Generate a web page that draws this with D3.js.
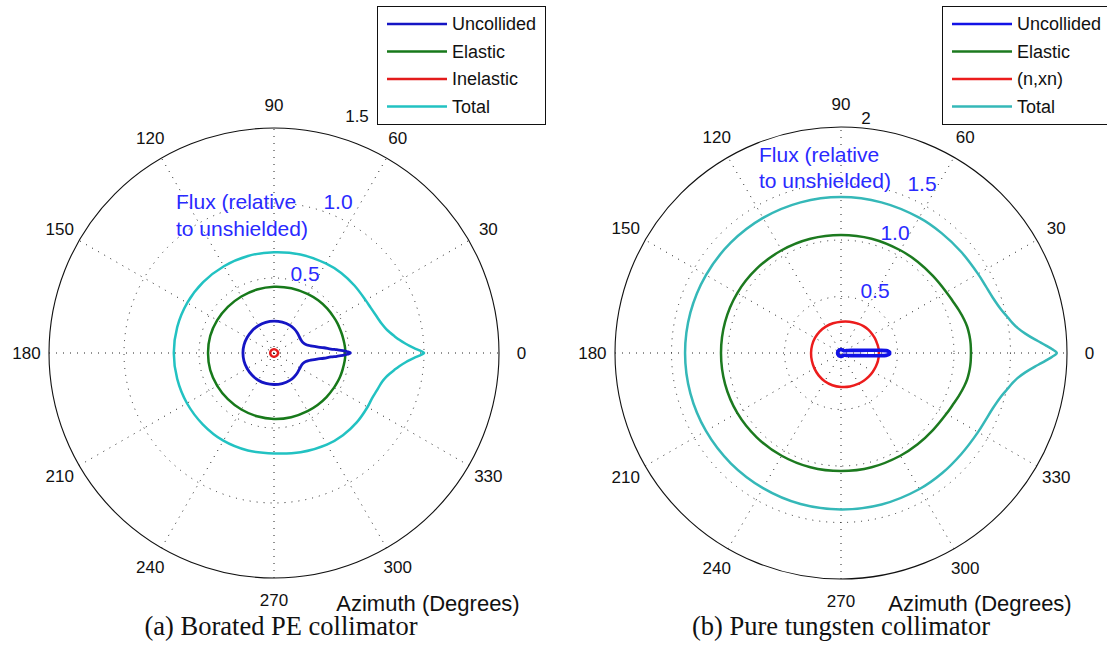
<!DOCTYPE html>
<html>
<head>
<meta charset="utf-8">
<script src="https://cdn.jsdelivr.net/npm/d3@7"></script>
<style>
  body { margin: 0; background: #fff; }
  svg { display: block; }
  text { font-family: "Liberation Sans", Arial, sans-serif; }
  text.caption { font-family: "Liberation Serif", "Times New Roman", serif; }
</style>
</head>
<body>
<svg id="fig" width="1107" height="653"></svg>
<script>
// Azimuth samples (degrees, counter-clockwise from 0), shared by every curve
const angles = [0, 1, 2, 3, 4, 6, 8, 10, 12, 15, 20, 25, 30, 40, 50, 60, 75, 90, 105, 120,
  135, 150, 165, 180, 195, 210, 225, 240, 255, 270, 285, 300, 310, 320, 330, 335, 340, 345,
  348, 350, 352, 354, 356, 357, 358, 359];

// (a) Borated PE collimator — flux relative to unshielded
const peUncollided = [0.51, 0.49, 0.46, 0.42, 0.38, 0.335, 0.29, 0.26, 0.24, 0.22, 0.205, 0.2, 0.2,
  0.205, 0.21, 0.213, 0.213, 0.213, 0.212, 0.21, 0.208, 0.207, 0.207, 0.207, 0.207, 0.207, 0.208,
  0.21, 0.21, 0.21, 0.211, 0.211, 0.208, 0.204, 0.2, 0.2, 0.205, 0.22, 0.24, 0.26, 0.29, 0.335,
  0.38, 0.42, 0.46, 0.49];
const peElastic = [0.475, 0.475, 0.475, 0.475, 0.475, 0.474, 0.473, 0.472, 0.471, 0.47, 0.468,
  0.467, 0.465, 0.462, 0.458, 0.453, 0.447, 0.442, 0.438, 0.435, 0.435, 0.437, 0.44, 0.44, 0.44,
  0.437, 0.435, 0.435, 0.437, 0.44, 0.443, 0.447, 0.452, 0.457, 0.462, 0.465, 0.468, 0.47, 0.471,
  0.472, 0.473, 0.474, 0.475, 0.475, 0.475, 0.475];
const peInelastic = [0.028, 0.028, 0.028, 0.028, 0.028, 0.028, 0.028, 0.027, 0.027, 0.027, 0.026,
  0.026, 0.026, 0.025, 0.025, 0.025, 0.025, 0.025, 0.025, 0.025, 0.025, 0.025, 0.025, 0.025, 0.025,
  0.025, 0.025, 0.025, 0.025, 0.025, 0.025, 0.025, 0.025, 0.025, 0.026, 0.026, 0.026, 0.027, 0.027,
  0.027, 0.028, 0.028, 0.028, 0.028, 0.028, 0.028];
const peTotal = [1.0, 0.97, 0.935, 0.905, 0.88, 0.84, 0.81, 0.785, 0.765, 0.745, 0.725, 0.712,
  0.705, 0.7, 0.697, 0.69, 0.68, 0.672, 0.67, 0.668, 0.668, 0.668, 0.668, 0.668, 0.668, 0.67,
  0.672, 0.675, 0.673, 0.67, 0.685, 0.705, 0.715, 0.72, 0.72, 0.72, 0.73, 0.745, 0.765, 0.785,
  0.81, 0.84, 0.88, 0.905, 0.935, 0.97];

// (b) Pure tungsten collimator — flux relative to unshielded
const wUncollided = [0.43, 0.43, 0.42, 0.4, 0.34, 0.23, 0.17, 0.135, 0.11, 0.09, 0.065, 0.05, 0.04,
  0.032, 0.03, 0.03, 0.03, 0.03, 0.03, 0.03, 0.03, 0.03, 0.03, 0.03, 0.03, 0.03, 0.03, 0.03, 0.03,
  0.03, 0.03, 0.03, 0.03, 0.032, 0.04, 0.05, 0.065, 0.09, 0.11, 0.135, 0.17, 0.23, 0.34, 0.4,
  0.42, 0.43];
const wElastic = [1.15, 1.15, 1.15, 1.15, 1.15, 1.149, 1.147, 1.144, 1.14, 1.13, 1.11, 1.09, 1.077,
  1.062, 1.055, 1.05, 1.047, 1.045, 1.047, 1.05, 1.055, 1.06, 1.062, 1.062, 1.062, 1.06, 1.055,
  1.05, 1.047, 1.045, 1.047, 1.05, 1.055, 1.062, 1.077, 1.09, 1.11, 1.13, 1.14, 1.144, 1.147,
  1.149, 1.15, 1.15, 1.15, 1.15];
const wNxn = [0.335, 0.335, 0.335, 0.335, 0.335, 0.335, 0.334, 0.333, 0.332, 0.33, 0.328, 0.326,
  0.323, 0.318, 0.31, 0.3, 0.287, 0.277, 0.272, 0.27, 0.268, 0.266, 0.265, 0.265, 0.267, 0.272,
  0.28, 0.288, 0.295, 0.3, 0.307, 0.313, 0.318, 0.323, 0.327, 0.329, 0.331, 0.333, 0.334, 0.334,
  0.335, 0.335, 0.335, 0.335, 0.335, 0.335];
const wTotal = [1.91, 1.87, 1.82, 1.77, 1.72, 1.64, 1.58, 1.54, 1.51, 1.47, 1.43, 1.41, 1.4, 1.39,
  1.385, 1.383, 1.38, 1.38, 1.38, 1.38, 1.38, 1.38, 1.38, 1.38, 1.38, 1.38, 1.38, 1.38, 1.383,
  1.385, 1.388, 1.39, 1.39, 1.39, 1.4, 1.41, 1.43, 1.47, 1.51, 1.54, 1.58, 1.64, 1.72, 1.77,
  1.82, 1.87];

// Angular grid labels and radial scale labels
const azimuthTicks = [0, 30, 60, 90, 120, 150, 180, 210, 240, 270, 300, 330];
const peRadialLabels = ["0.5", "1.0"];
const wRadialLabels = ["0.5", "1.0", "1.5"];

const svg = d3.select("#fig");
const rad = d => d * Math.PI / 180;

const panels = [
  {
    cx: 274, cy: 353, R: 225, rmax: 1.5, topLabel: "1.5", topLabelPos: [357, 116],
    series: [
      { name: "Uncollided", values: peUncollided, color: "#1515c4", width: 2.8 },
      { name: "Elastic", values: peElastic, color: "#17791a", width: 2.5 },
      { name: "Inelastic", values: peInelastic, color: "#e31b1b", width: 2.5 },
      { name: "Total", values: peTotal, color: "#22c2c2", width: 2.5 }
    ],
    drawOrder: [3, 1, 0, 2],
    legend: { x: 377, y: 6, w: 168, h: 118 },
    noteX: 176, noteY: [201, 228],
    radialLabels: peRadialLabels, radialPos: [[305, 273], [338, 201]],
    azimuthX: 428
  },
  {
    cx: 841, cy: 353, R: 226, rmax: 2, topLabel: "2", topLabelPos: [866, 118],
    series: [
      { name: "Uncollided", values: wUncollided, color: "#1212e6", width: 3.6 },
      { name: "Elastic", values: wElastic, color: "#1c7a1f", width: 2.5 },
      { name: "(n,xn)", values: wNxn, color: "#ec1c1c", width: 2.5 },
      { name: "Total", values: wTotal, color: "#35b8b8", width: 2.5 }
    ],
    drawOrder: [3, 1, 2, 0],
    legend: { x: 942, y: 6, w: 175, h: 118 },
    noteX: 759, noteY: [154, 180],
    radialLabels: wRadialLabels, radialPos: [[875, 290], [895, 232], [922, 183]],
    azimuthX: 980
  }
];

panels.forEach(p => {
  const g = svg.append("g");
  const r = d3.scaleLinear().domain([0, p.rmax]).range([0, p.R]);

  // dotted rings at the inner radial ticks
  const rings = r.ticks(p.rmax / 0.5).filter(t => t > 0 && t < p.rmax);
  g.selectAll("circle.ring").data(rings).join("circle")
    .attr("cx", p.cx).attr("cy", p.cy).attr("r", d => r(d))
    .attr("fill", "none").attr("stroke", "#222").attr("stroke-width", 1)
    .attr("stroke-dasharray", "1,6");

  // dotted spokes every 30 degrees
  g.selectAll("line.spoke").data(azimuthTicks.slice(0, 6)).join("line")
    .attr("x1", d => p.cx - p.R * Math.cos(rad(d)))
    .attr("y1", d => p.cy + p.R * Math.sin(rad(d)))
    .attr("x2", d => p.cx + p.R * Math.cos(rad(d)))
    .attr("y2", d => p.cy - p.R * Math.sin(rad(d)))
    .attr("stroke", "#222").attr("stroke-width", 1).attr("stroke-dasharray", "1,6");

  // solid outer circle
  g.append("circle").attr("cx", p.cx).attr("cy", p.cy).attr("r", r(p.rmax))
    .attr("fill", "none").attr("stroke", "#111").attr("stroke-width", 1.1);

  // azimuth labels
  g.selectAll("text.az").data(azimuthTicks).join("text")
    .attr("x", d => p.cx + 1.1 * p.R * Math.cos(rad(d)))
    .attr("y", d => p.cy - 1.1 * p.R * Math.sin(rad(d)))
    .attr("text-anchor", "middle").attr("dominant-baseline", "central")
    .attr("font-size", 17).attr("fill", "#111")
    .text(d => d);

  g.append("text").attr("x", p.topLabelPos[0]).attr("y", p.topLabelPos[1])
    .attr("text-anchor", "middle").attr("dominant-baseline", "central")
    .attr("font-size", 17).attr("fill", "#111").text(p.topLabel);

  // flux curves
  const line = d3.lineRadial()
    .angle(d => Math.PI / 2 - rad(d[0]))
    .radius(d => r(d[1]))
    .curve(d3.curveCatmullRomClosed.alpha(0.5));
  const plot = g.append("g").attr("transform", `translate(${p.cx},${p.cy})`);
  p.drawOrder.forEach(i => {
    const s = p.series[i];
    plot.append("path")
      .datum(angles.map((a, k) => [a, s.values[k]]))
      .attr("d", line)
      .attr("fill", "none").attr("stroke", s.color)
      .attr("stroke-width", s.width).attr("stroke-linejoin", "round");
  });

  // blue annotations
  const blue = "#2a2aff";
  ["Flux (relative", "to unshielded)"].forEach((t, k) => {
    g.append("text").attr("x", p.noteX).attr("y", p.noteY[k])
      .attr("dominant-baseline", "central").attr("font-size", 21)
      .attr("fill", blue).text(t);
  });
  p.radialLabels.forEach((t, k) => {
    g.append("text").attr("x", p.radialPos[k][0]).attr("y", p.radialPos[k][1])
      .attr("text-anchor", "middle").attr("dominant-baseline", "central")
      .attr("font-size", 21).attr("fill", blue).text(t);
  });

  // axis title
  g.append("text").attr("x", p.azimuthX).attr("y", 603)
    .attr("text-anchor", "middle").attr("dominant-baseline", "central")
    .attr("font-size", 22).attr("fill", "#111").text("Azimuth (Degrees)");

  // legend
  const L = p.legend;
  const lg = svg.append("g");
  lg.append("rect").attr("x", L.x + 0.5).attr("y", L.y + 0.5).attr("width", L.w).attr("height", L.h)
    .attr("fill", "#fff").attr("stroke", "#111").attr("stroke-width", 1);
  p.series.forEach((s, k) => {
    const y = L.y + 18 + k * 27.5;
    lg.append("line").attr("x1", L.x + 10).attr("x2", L.x + 70).attr("y1", y).attr("y2", y)
      .attr("stroke", s.color).attr("stroke-width", 2.5);
    lg.append("text").attr("x", L.x + 75).attr("y", y).attr("dominant-baseline", "central")
      .attr("font-size", 18).attr("fill", "#111").text(s.name);
  });
});

// sub-figure captions
const captions = [
  { text: "(a) Borated PE collimator", x: 281 },
  { text: "(b) Pure tungsten collimator", x: 841 }
];
svg.selectAll("text.caption").data(captions).join("text")
  .attr("class", "caption")
  .attr("x", d => d.x).attr("y", 626)
  .attr("text-anchor", "middle").attr("dominant-baseline", "central")
  .attr("font-size", 26.5).attr("fill", "#111")
  .text(d => d.text);
</script>
</body>
</html>
